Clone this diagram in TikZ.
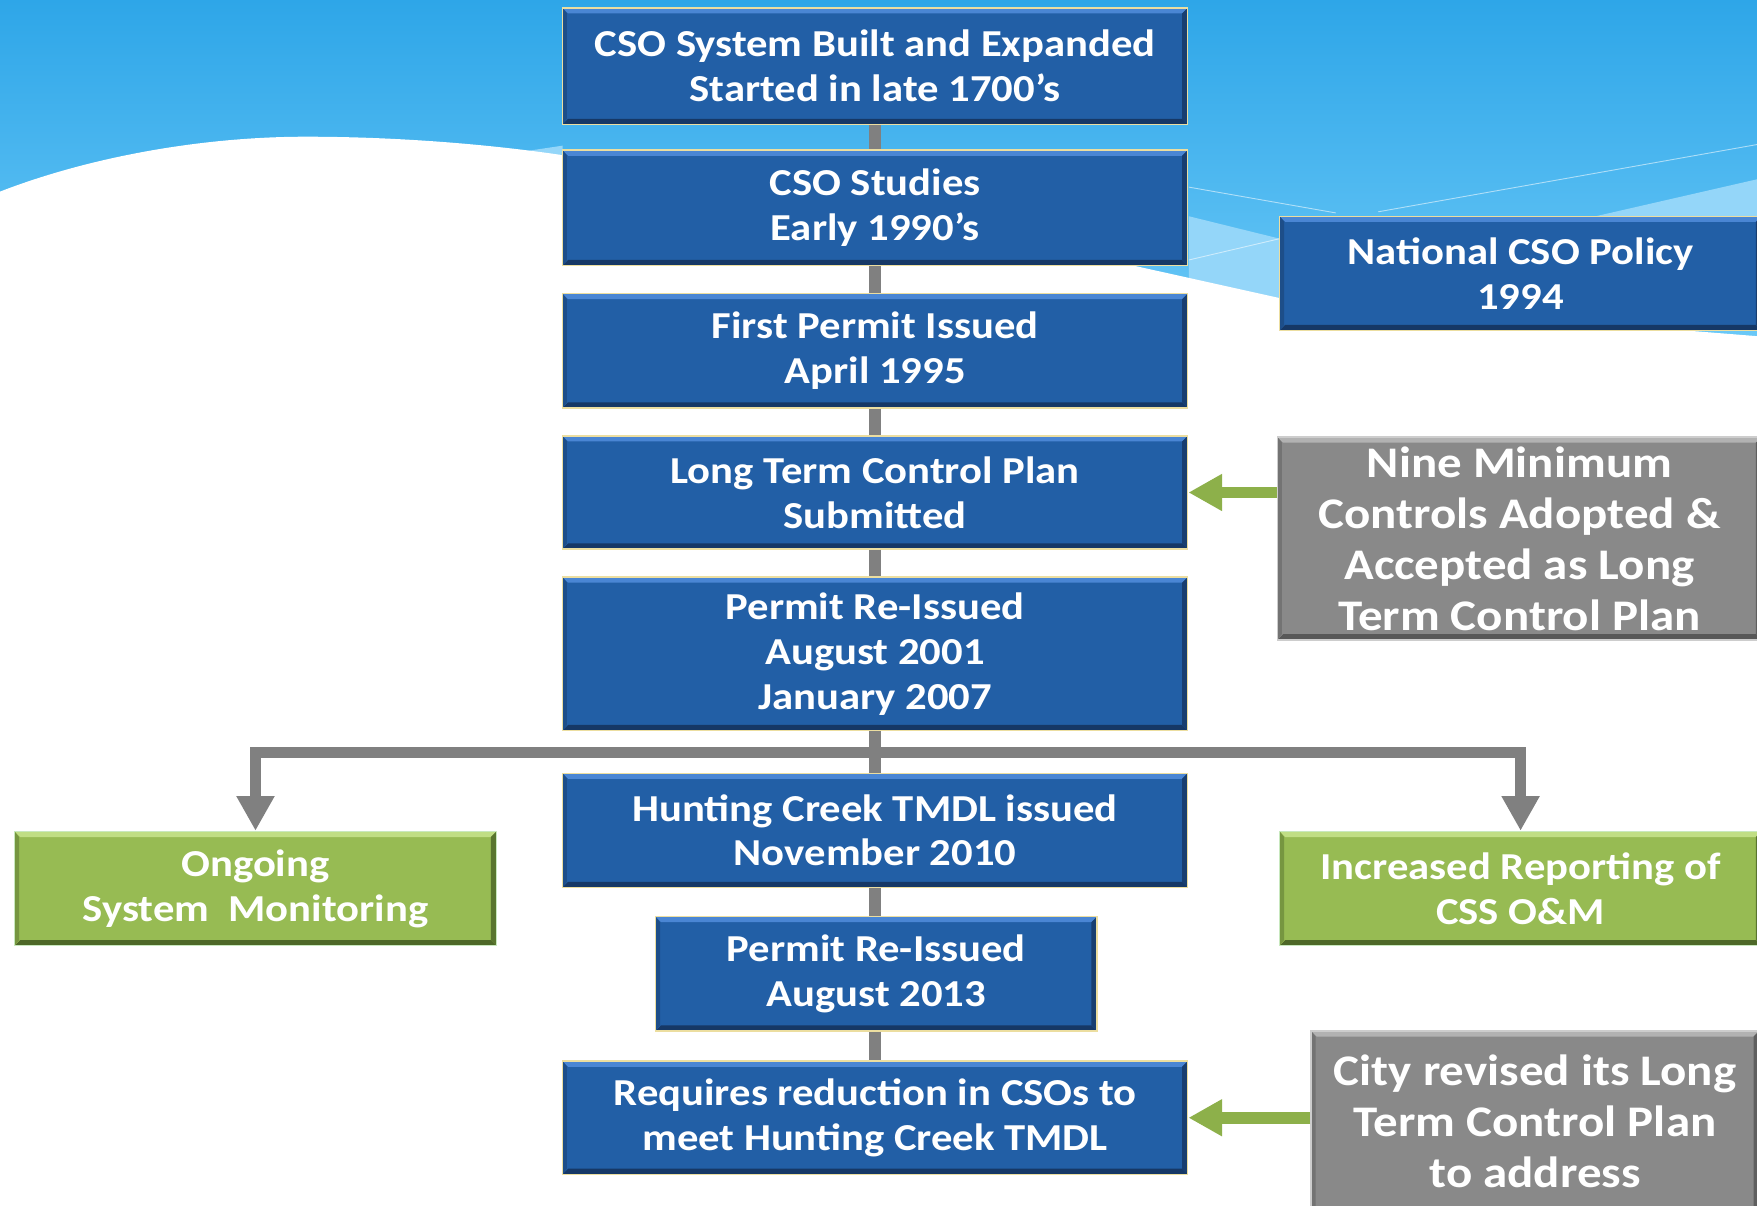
\documentclass[tikz,border=0pt]{standalone}
\usepackage{fontspec}
\setmainfont{Carlito}[FakeStretch=1.12]
\usetikzlibrary{arrows.meta}
\definecolor{skyTop}{RGB}{46,166,232}
\definecolor{skyBot}{RGB}{106,200,247}
\definecolor{skyLight}{RGB}{148,214,249}
\definecolor{boxBlue}{RGB}{34,95,166}
\definecolor{boxBlueL}{RGB}{74,134,212}
\definecolor{boxBlueD}{RGB}{22,56,102}
\definecolor{boxCream}{RGB}{236,222,160}
\definecolor{boxGreen}{RGB}{151,187,83}
\definecolor{boxGreenL}{RGB}{192,222,132}
\definecolor{boxGreenD}{RGB}{78,104,40}
\definecolor{boxGreenB}{RGB}{200,232,190}
\definecolor{boxGray}{RGB}{137,137,137}
\definecolor{boxGrayL}{RGB}{178,178,178}
\definecolor{boxGrayD}{RGB}{88,88,88}
\definecolor{boxGrayB}{RGB}{205,205,205}
\definecolor{connGray}{RGB}{128,128,128}
\definecolor{arrGreen}{RGB}{141,176,74}
\tikzset{
  bevbox/.style n args={4}{rectangle, inner sep=0pt, align=center, text=white,
    fill=#1, draw=#4, line width=1.2pt,
    path picture={
      \fill[#2] (path picture bounding box.north west) -- (path picture bounding box.north east)
        -- ([shift={(-5pt,-5pt)}]path picture bounding box.north east)
        -- ([shift={(5pt,-5pt)}]path picture bounding box.north west) -- cycle;
      \fill[#3] (path picture bounding box.south west) -- (path picture bounding box.south east)
        -- ([shift={(-5pt,5pt)}]path picture bounding box.south east)
        -- ([shift={(5pt,5pt)}]path picture bounding box.south west) -- cycle;
      \fill[#3!85!#1] (path picture bounding box.north east) -- (path picture bounding box.south east)
        -- ([shift={(-5pt,5pt)}]path picture bounding box.south east)
        -- ([shift={(-5pt,-5pt)}]path picture bounding box.north east) -- cycle;
      \fill[#3!45!#1] (path picture bounding box.north west) -- (path picture bounding box.south west)
        -- ([shift={(4pt,5pt)}]path picture bounding box.south west)
        -- ([shift={(4pt,-5pt)}]path picture bounding box.north west) -- cycle;
    }},
  bluebox/.style={bevbox={boxBlue}{boxBlueL}{boxBlueD}{boxCream}, font=\bfseries\fontsize{34}{40}\selectfont},
  greenbox/.style={bevbox={boxGreen}{boxGreenL}{boxGreenD}{boxGreenB}, font=\bfseries\fontsize{34}{40}\selectfont},
  graybox/.style={bevbox={boxGray}{boxGrayL}{boxGrayD}{boxGrayB}, font=\bfseries\fontsize{39}{45.5}\selectfont},
  conn/.style={draw=connGray, line width=10.5pt},
  garrow/.style={conn, line join=miter, -{Triangle[length=31pt,width=32pt]}},
  grarrow/.style={draw=arrGreen, line width=10.5pt, -{Triangle[length=30pt,width=31pt]}},
  faint/.style={draw=white, draw opacity=0.55, line width=0.8pt}
}
\begin{document}
\begin{tikzpicture}[x=1pt,y=-1pt]
\useasboundingbox (0,0) rectangle (1568,1076);
\clip (0,0) rectangle (1568,1076);
% background sky
\shade[top color=skyTop, bottom color=skyBot] (0,0) rectangle (1568,300);
\fill[skyLight] (1061,193) -- (1142,213) -- (1142,280) -- (1061,260) -- cycle;
\fill[skyLight] (1424,193) -- (1568,160) -- (1568,200) -- (1424,200) -- cycle;
\fill[skyLight] (455,137) -- (502,130) -- (502,150) -- cycle;
\fill[white] (0,171) .. controls (80,140) and (180,122) .. (273,122)
  .. controls (350,122) and (430,128) .. (499,138)
  .. controls (800,190) .. (1142,266) -- (1568,300) -- (1568,1076) -- (0,1076) -- cycle;
\draw[faint] (1061,167) -- (1192,190);
\draw[faint] (1230,189) -- (1568,129);
\draw[faint] (1061,232) -- (1142,213);

% main column
\node[bluebox, minimum width=558pt, minimum height=104pt] (b1) at (781,59) {CSO System Built and Expanded\\Started in late 1700’s};
\node[bluebox, minimum width=558pt, minimum height=103pt] (b2) at (781,185.5) {CSO Studies\\Early 1990’s};
\node[bluebox, minimum width=558pt, minimum height=102pt] (b3) at (781,313) {First Permit Issued\\April 1995};
\node[bluebox, minimum width=558pt, minimum height=101pt] (b4) at (781,439.5) {Long Term Control Plan\\Submitted};
\node[bluebox, minimum width=558pt, minimum height=137pt] (b5) at (781,583.5) {Permit Re-Issued\\August 2001\\January 2007};
\node[bluebox, minimum width=558pt, minimum height=102pt] (b6) at (781,741) {Hunting Creek TMDL issued\\November 2010};
\node[bluebox, minimum width=394pt, minimum height=102pt] (b7) at (782,869) {Permit Re-Issued\\August 2013};
\node[bluebox, minimum width=558pt, minimum height=101pt] (b8) at (781,997.5) {Requires reduction in CSOs to\\meet Hunting Creek TMDL};

% side boxes
\node[bluebox, minimum width=430pt, minimum height=102pt] (nat) at (1357,244) {National CSO Policy\\1994};
\node[graybox, minimum width=432pt, minimum height=181pt] (nine) at (1356,480.5) {Nine Minimum\\Controls Adopted \&\\Accepted as Long\\Term Control Plan};
\node[greenbox, minimum width=430pt, minimum height=102pt] (ong) at (228,793) {Ongoing\\System\ \ Monitoring};
\node[greenbox, minimum width=430pt, minimum height=102pt] (inc) at (1357,793) {Increased Reporting of\\CSS O\&M};
\node[graybox, minimum width=400pt, minimum height=162pt] (city) at (1370,1001) {City revised its Long\\Term Control Plan\\to address};

% connectors
\draw[conn] (b1.south) -- (b2.north);
\draw[conn] (b2.south) -- (b3.north);
\draw[conn] (b3.south) -- (b4.north);
\draw[conn] (b4.south) -- (b5.north);
\draw[conn] (b5.south) -- (b6.north);
\draw[conn] (b6.south) -- (b6.south |- b7.north);
\draw[conn] (b8.north |- b7.south) -- (b8.north);
\coordinate (br) at (b5.south |- 0,671.5);
\draw[garrow] (br) -| (ong.north);
\draw[garrow] (br) -| (inc.north);
\draw[grarrow] (nine.west |- b4.east) -- (b4.east);
\draw[grarrow] (city.west |- b8.east) -- (b8.east);
\end{tikzpicture}
\end{document}
